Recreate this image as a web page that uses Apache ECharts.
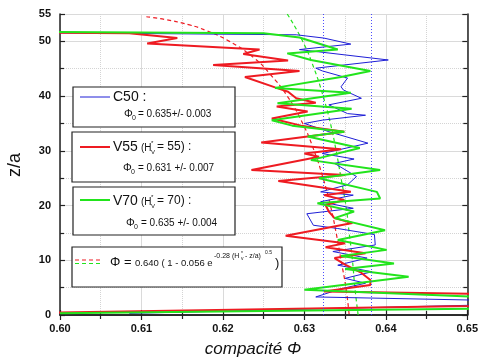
<!DOCTYPE html>
<html>
<head>
<meta charset="utf-8">
<script src="https://cdn.jsdelivr.net/npm/echarts@6/dist/echarts.min.js"></script>
<style>
  html, body { margin: 0; padding: 0; background: #fff; }
  #chart { width: 481px; height: 358px; }
</style>
</head>
<body>
<div id="chart"></div>
<script>
// --- data: compacite (phi) vs height (z/a) ---
const c50Z   = [51.8, 51.2, 50.6, 49.5, 48.5, 46.6, 45.1, 44.6, 43.3, 41.7, 41.1, 39.6, 38.4, 36.8, 36.5, 35.6, 35.0, 33.5, 31.4, 29.5, 28.5, 27.7, 25.3, 23.8, 22.5, 21.9, 20.7, 19.5, 18.5, 16.4, 15.8, 14.7, 12.8, 11.6, 10.4, 9.1, 7.9, 6.7, 5.8, 4.8, 3.3, 2.3, 0.3];
const c50Phi = [0.580, 0.6290, 0.6324, 0.6357, 0.6294, 0.6403, 0.6314, 0.6322, 0.6353, 0.6345, 0.6348, 0.6370, 0.6330, 0.6353, 0.6375, 0.6322, 0.6300, 0.6330, 0.6378, 0.6322, 0.6361, 0.6337, 0.6364, 0.6353, 0.6320, 0.6360, 0.6320, 0.6360, 0.6303, 0.6311, 0.6341, 0.6386, 0.6387, 0.6335, 0.6377, 0.6341, 0.6383, 0.6350, 0.6375, 0.6345, 0.6314, 0.665, 0.6085];

const v55Z   = [51.8, 51.5, 50.6, 49.6, 48.5, 47.7, 46.5, 45.7, 44.6, 43.5, 41.6, 40.8, 39.6, 38.8, 38.1, 37.2, 35.9, 34.6, 33.5, 31.5, 30.3, 29.5, 28.9, 26.5, 25.6, 24.5, 22.5, 21.9, 21.0, 20.1, 18.9, 17.7, 16.8, 14.5, 13.1, 12.4, 11.3, 10.4, 9.2, 7.8, 6.4, 5.5, 4.3, 2.8, 0.0];
const v55Phi = [0.580, 0.6085, 0.6144, 0.6107, 0.6245, 0.6225, 0.6280, 0.6188, 0.6294, 0.6227, 0.6264, 0.6280, 0.6290, 0.6314, 0.6266, 0.6304, 0.6260, 0.6296, 0.6349, 0.6247, 0.6345, 0.6300, 0.6318, 0.6235, 0.6350, 0.6268, 0.6357, 0.6324, 0.6349, 0.6326, 0.6330, 0.6337, 0.6359, 0.6277, 0.6350, 0.6326, 0.6375, 0.6337, 0.6350, 0.6369, 0.6381, 0.6381, 0.6324, 0.700, 0.580];

const v70Z   = [51.9, 51.5, 50.7, 48.5, 47.8, 46.6, 44.6, 43.5, 41.5, 40.6, 38.7, 37.7, 35.6, 34.6, 33.5, 32.6, 30.5, 28.3, 26.5, 25.0, 22.5, 21.3, 20.4, 18.9, 17.7, 15.5, 13.7, 11.9, 10.8, 9.4, 8.4, 7.0, 4.6, 2.5, 1.3, 0.3];
const v70Phi = [0.580, 0.6250, 0.6294, 0.6341, 0.6279, 0.6308, 0.6381, 0.6345, 0.6264, 0.6357, 0.6267, 0.6358, 0.6260, 0.6285, 0.6349, 0.6304, 0.6368, 0.6308, 0.6393, 0.6318, 0.6389, 0.6393, 0.6316, 0.6361, 0.6337, 0.6399, 0.6341, 0.6401, 0.6345, 0.6410, 0.6350, 0.6428, 0.6300, 0.665, 0.660, 0.600];

// fitted curves (dashed)
const fit55Z   = [54.5, 54, 53, 52, 50, 47, 44, 40, 35, 30, 25, 20, 15, 10, 5, 0];
const fit55Phi = [0.6106, 0.6129, 0.6159, 0.6179, 0.6208, 0.6238, 0.6258, 0.6279, 0.6298, 0.6312, 0.6323, 0.6332, 0.6339, 0.6345, 0.6351, 0.6355];
const fit70Z   = [55, 50, 45, 40, 35, 30, 25, 20, 15, 10, 5, 0];
const fit70Phi = [0.6279, 0.6298, 0.6312, 0.6323, 0.6332, 0.6339, 0.6345, 0.6351, 0.6355, 0.6359, 0.6362, 0.6366];

// C50 mean +/- 0.003 (blue dotted verticals)
const c50Bounds = [0.6323, 0.6382];

const xTicks = [0.60, 0.61, 0.62, 0.63, 0.64, 0.65];
const yTicks = [0, 10, 20, 30, 40, 50, 55];

const BLUE = '#1f1fd6';
const RED = '#ee1b22';
const GREEN = '#22e41c';
const FONT = '"Liberation Sans", Arial, sans-serif';

function pairs(xs, ys) {
    return xs.map((x, i) => [x, ys[i]]);
}

const chart = echarts.init(document.getElementById('chart'), null, { renderer: 'canvas' });

const tickStyle = { inside: true, length: 5, lineStyle: { color: '#222', width: 1.2 } };
const minorStyle = { show: true, splitNumber: 2, length: 4, lineStyle: { color: '#222', width: 1.2 } };
const lineStyleAxis = { show: true, lineStyle: { color: '#222', width: 1.5 } };

const option = {
    animation: false,
    backgroundColor: '#fff',
    grid: { left: 60, right: 10, top: 14, bottom: 43 },
    xAxis: [
        {
            type: 'value',
            min: xTicks[0],
            max: xTicks[xTicks.length - 1],
            interval: 0.01,
            axisLine: lineStyleAxis,
            axisTick: tickStyle,
            minorTick: minorStyle,
            axisLabel: {
                margin: 8,
                fontFamily: FONT,
                fontWeight: 'bold',
                fontSize: 11,
                color: '#111',
                formatter: v => v.toFixed(2)
            },
            splitLine: { show: true, lineStyle: { color: '#dadada', width: 1 } },
            minorSplitLine: { show: true, lineStyle: { color: '#d4d4d4', type: 'dotted', width: 1 } }
        },
        {
            type: 'value',
            position: 'top',
            min: xTicks[0],
            max: xTicks[xTicks.length - 1],
            interval: 0.01,
            axisLine: lineStyleAxis,
            axisTick: tickStyle,
            minorTick: minorStyle,
            axisLabel: { show: false },
            splitLine: { show: false }
        }
    ],
    yAxis: [
        {
            type: 'value',
            min: yTicks[0],
            max: yTicks[yTicks.length - 1],
            interval: 10,
            axisLine: lineStyleAxis,
            axisTick: tickStyle,
            minorTick: minorStyle,
            axisLabel: {
                margin: 9,
                fontFamily: FONT,
                fontWeight: 'bold',
                fontSize: 11,
                color: '#111'
            },
            splitLine: { show: true, lineStyle: { color: '#dadada', width: 1 } },
            minorSplitLine: { show: true, lineStyle: { color: '#d4d4d4', type: 'dotted', width: 1 } }
        },
        {
            type: 'value',
            position: 'right',
            min: yTicks[0],
            max: yTicks[yTicks.length - 1],
            interval: 10,
            axisLine: lineStyleAxis,
            axisTick: tickStyle,
            minorTick: minorStyle,
            axisLabel: { show: false },
            splitLine: { show: false }
        }
    ],
    series: [
        {
            name: 'fit V55',
            type: 'line',
            smooth: true,
            symbol: 'none',
            data: pairs(fit55Phi, fit55Z),
            lineStyle: { color: RED, width: 1.2, type: [4, 3] }
        },
        {
            name: 'fit V70',
            type: 'line',
            smooth: true,
            symbol: 'none',
            data: pairs(fit70Phi, fit70Z),
            lineStyle: { color: GREEN, width: 1.2, type: [4, 3] }
        },
        {
            name: 'C50',
            type: 'line',
            symbol: 'none',
            data: pairs(c50Phi, c50Z),
            itemStyle: { color: BLUE },
            lineStyle: { color: BLUE, width: 1 },
            markLine: {
                silent: true,
                symbol: 'none',
                precision: 4,
                label: { show: false },
                itemStyle: { color: '#3a3aff' },
                lineStyle: { color: '#3a3aff', type: [1, 2], width: 1, opacity: 0.9 },
                data: c50Bounds.map(v => ({ xAxis: v }))
            }
        },
        {
            name: 'V55',
            type: 'line',
            symbol: 'none',
            data: pairs(v55Phi, v55Z),
            lineStyle: { color: RED, width: 2 }
        },
        {
            name: 'V70',
            type: 'line',
            symbol: 'none',
            data: pairs(v70Phi, v70Z),
            lineStyle: { color: GREEN, width: 2 }
        }
    ],
    graphic: [
        // axis titles
        {
            type: 'text', z: 100, x: 15, y: 165, rotation: Math.PI / 2,
            style: { text: 'z/a', font: '18px ' + FONT, fill: '#111', align: 'center', verticalAlign: 'middle' }
        },
        {
            type: 'text', z: 100, x: 253, y: 349,
            style: { text: 'compacité Φ', font: 'italic 17px ' + FONT, fill: '#111', align: 'center', verticalAlign: 'middle' }
        },

        // box C50
        { type: 'rect', z: 100, shape: { x: 73, y: 87, width: 162, height: 40 }, style: { fill: '#fff', stroke: '#222', lineWidth: 1.2 } },
        { type: 'line', z: 101, shape: { x1: 80, y1: 97, x2: 110, y2: 97 }, style: { stroke: BLUE, lineWidth: 1 } },
        { type: 'text', z: 101, x: 113, y: 97, style: { text: 'C50 :', font: '14px ' + FONT, fill: '#111', verticalAlign: 'middle' } },
        { type: 'text', z: 101, x: 124, y: 114, style: { text: 'Φ', font: '11px ' + FONT, fill: '#111', verticalAlign: 'middle' } },
        { type: 'text', z: 101, x: 132, y: 118, style: { text: '0', font: '7px ' + FONT, fill: '#111', verticalAlign: 'middle' } },
        { type: 'text', z: 101, x: 138, y: 114, style: { text: '= 0.635+/- 0.003', font: '10px ' + FONT, fill: '#111', verticalAlign: 'middle' } },

        // box V55
        { type: 'rect', z: 100, shape: { x: 72, y: 132, width: 163, height: 50 }, style: { fill: '#fff', stroke: '#222', lineWidth: 1.2 } },
        { type: 'line', z: 101, shape: { x1: 80, y1: 147, x2: 110, y2: 147 }, style: { stroke: RED, lineWidth: 2 } },
        { type: 'text', z: 101, x: 113, y: 147, style: { text: 'V55', font: '14px ' + FONT, fill: '#111', verticalAlign: 'middle' } },
        { type: 'text', z: 101, x: 141, y: 148, style: { text: '(H', font: '10px ' + FONT, fill: '#111', verticalAlign: 'middle' } },
        { type: 'text', z: 101, x: 151, y: 143, style: { text: '*', font: '6px ' + FONT, fill: '#111', verticalAlign: 'middle' } },
        { type: 'text', z: 101, x: 151, y: 152, style: { text: 'V', font: '6px ' + FONT, fill: '#111', verticalAlign: 'middle' } },
        { type: 'text', z: 101, x: 157, y: 147, style: { text: '= 55) :', font: '12px ' + FONT, fill: '#111', verticalAlign: 'middle' } },
        { type: 'text', z: 101, x: 123, y: 168, style: { text: 'Φ', font: '11px ' + FONT, fill: '#111', verticalAlign: 'middle' } },
        { type: 'text', z: 101, x: 131, y: 172, style: { text: '0', font: '7px ' + FONT, fill: '#111', verticalAlign: 'middle' } },
        { type: 'text', z: 101, x: 138, y: 168, style: { text: '= 0.631 +/- 0.007', font: '10px ' + FONT, fill: '#111', verticalAlign: 'middle' } },

        // box V70
        { type: 'rect', z: 100, shape: { x: 73, y: 187, width: 162, height: 48 }, style: { fill: '#fff', stroke: '#222', lineWidth: 1.2 } },
        { type: 'line', z: 101, shape: { x1: 80, y1: 200, x2: 110, y2: 200 }, style: { stroke: GREEN, lineWidth: 2 } },
        { type: 'text', z: 101, x: 113, y: 201, style: { text: 'V70', font: '14px ' + FONT, fill: '#111', verticalAlign: 'middle' } },
        { type: 'text', z: 101, x: 141, y: 202, style: { text: '(H', font: '10px ' + FONT, fill: '#111', verticalAlign: 'middle' } },
        { type: 'text', z: 101, x: 151, y: 197, style: { text: '*', font: '6px ' + FONT, fill: '#111', verticalAlign: 'middle' } },
        { type: 'text', z: 101, x: 151, y: 206, style: { text: 'V', font: '6px ' + FONT, fill: '#111', verticalAlign: 'middle' } },
        { type: 'text', z: 101, x: 157, y: 201, style: { text: '= 70) :', font: '12px ' + FONT, fill: '#111', verticalAlign: 'middle' } },
        { type: 'text', z: 101, x: 126, y: 223, style: { text: 'Φ', font: '11px ' + FONT, fill: '#111', verticalAlign: 'middle' } },
        { type: 'text', z: 101, x: 134, y: 227, style: { text: '0', font: '7px ' + FONT, fill: '#111', verticalAlign: 'middle' } },
        { type: 'text', z: 101, x: 141, y: 223, style: { text: '= 0.635 +/- 0.004', font: '10px ' + FONT, fill: '#111', verticalAlign: 'middle' } },

        // box fit formula
        { type: 'rect', z: 100, shape: { x: 72, y: 247, width: 210, height: 40 }, style: { fill: '#fff', stroke: '#222', lineWidth: 1.2 } },
        { type: 'line', z: 101, shape: { x1: 75, y1: 260, x2: 102, y2: 260 }, style: { stroke: RED, lineWidth: 1.2, lineDash: [4, 3] } },
        { type: 'line', z: 101, shape: { x1: 75, y1: 263.5, x2: 102, y2: 263.5 }, style: { stroke: GREEN, lineWidth: 1.2, lineDash: [4, 3] } },
        { type: 'text', z: 101, x: 110, y: 262, style: { text: 'Φ =', font: '13px ' + FONT, fill: '#111', verticalAlign: 'middle' } },
        { type: 'text', z: 101, x: 135, y: 263, style: { text: '0.640 ( 1 - 0.056 e', font: '9.5px ' + FONT, fill: '#111', verticalAlign: 'middle' } },
        { type: 'text', z: 101, x: 214, y: 256, style: { text: '-0.28 (H', font: '7px ' + FONT, fill: '#111', verticalAlign: 'middle' } },
        { type: 'text', z: 101, x: 241, y: 254, style: { text: '*', font: '5px ' + FONT, fill: '#111', verticalAlign: 'middle' } },
        { type: 'text', z: 101, x: 241, y: 259, style: { text: 'v', font: '5px ' + FONT, fill: '#111', verticalAlign: 'middle' } },
        { type: 'text', z: 101, x: 245, y: 256, style: { text: '- z/a)', font: '7px ' + FONT, fill: '#111', verticalAlign: 'middle' } },
        { type: 'text', z: 101, x: 265, y: 253, style: { text: '0.5', font: '5px ' + FONT, fill: '#111', verticalAlign: 'middle' } },
        { type: 'text', z: 101, x: 275, y: 263, style: { text: ')', font: '13px ' + FONT, fill: '#111', verticalAlign: 'middle' } }
    ]
};

chart.setOption(option);
</script>
</body>
</html>
